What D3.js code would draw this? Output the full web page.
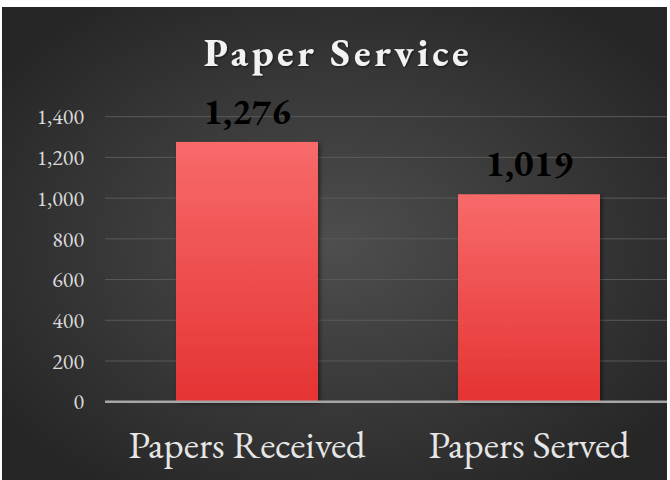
<!DOCTYPE html>
<html>
<head>
<meta charset="utf-8">
<script src="https://cdn.jsdelivr.net/npm/d3@7"></script>
<style>
  body { margin: 0; background: #fff; }
  svg { display: block; }
  text { font-family: Garamond, "EB Garamond", "Liberation Serif", serif; }
</style>
</head>
<body>
<div id="chart"></div>
<script>
const categories = ["Papers Received", "Papers Served"];
const values = [1276, 1019];
const yTicks = [0, 200, 400, 600, 800, 1000, 1200, 1400];
const chartTitle = "Paper Service";

const width = 670;
const height = 480;

const svg = d3.select("#chart").append("svg")
    .attr("width", width)
    .attr("height", height);

const defs = svg.append("defs");

const bg = defs.append("radialGradient")
    .attr("id", "bg")
    .attr("cx", "50%").attr("cy", "50%").attr("r", "62%");
bg.append("stop").attr("offset", "0%").attr("stop-color", "#4e4e4e");
bg.append("stop").attr("offset", "100%").attr("stop-color", "#262626");

const barFill = defs.append("linearGradient")
    .attr("id", "barFill")
    .attr("x1", 0).attr("y1", 0).attr("x2", 0).attr("y2", 1);
barFill.append("stop").attr("offset", "0%").attr("stop-color", "#f86a6a");
barFill.append("stop").attr("offset", "100%").attr("stop-color", "#e53333");

const shadow = defs.append("filter").attr("id", "shadow")
    .attr("x", "-20%").attr("y", "-20%").attr("width", "140%").attr("height", "140%");
shadow.append("feDropShadow")
    .attr("dx", 2).attr("dy", 2).attr("stdDeviation", 2)
    .attr("flood-color", "#000").attr("flood-opacity", 0.45);

const titleShadow = defs.append("filter").attr("id", "titleShadow");
titleShadow.append("feDropShadow")
    .attr("dx", 1).attr("dy", 1).attr("stdDeviation", 1)
    .attr("flood-color", "#000").attr("flood-opacity", 0.6);

// chart background
svg.append("rect")
    .attr("x", 2).attr("y", 7)
    .attr("width", 665).attr("height", 473)
    .attr("fill", "url(#bg)");

const y = d3.scaleLinear()
    .domain([0, 1400])
    .range([401.7, 116.7]);

// centres of bars
const xCenter = d3.scalePoint()
    .domain(categories)
    .range([247, 529]);
const barWidth = 142;

const g = svg.append("g");

// gridlines
g.append("g")
    .selectAll("line")
    .data(yTicks.filter(d => d > 0))
    .join("line")
    .attr("x1", 105).attr("x2", 667)
    .attr("y1", d => y(d)).attr("y2", d => y(d))
    .attr("stroke", "#5a5a5a")
    .attr("stroke-width", 1);

// y axis labels
const yAxis = g.append("g")
    .attr("transform", "translate(84,0)")
    .call(d3.axisLeft(y).tickValues(yTicks).tickFormat(d3.format(",")).tickSize(0).tickPadding(0));
yAxis.select(".domain").remove();
yAxis.selectAll("text")
    .attr("fill", "#d9d9d9")
    .style("font-size", "22px")
    .attr("dy", "0.33em");

// bars
g.append("g")
    .selectAll("rect")
    .data(values)
    .join("rect")
    .attr("x", (d, i) => xCenter(categories[i]) - barWidth / 2)
    .attr("y", d => y(d))
    .attr("width", barWidth)
    .attr("height", d => y(0) - y(d))
    .attr("fill", "url(#barFill)")
    .attr("filter", "url(#shadow)");

// zero line
g.append("line")
    .attr("x1", 105).attr("x2", 667)
    .attr("y1", y(0)).attr("y2", y(0))
    .attr("stroke", "#a6a6a6")
    .attr("stroke-width", 2.5);

// data labels
g.append("g")
    .selectAll("text")
    .data(values)
    .join("text")
    .attr("x", (d, i) => xCenter(categories[i]))
    .attr("y", d => y(d) - 18)
    .attr("text-anchor", "middle")
    .attr("fill", "#000")
    .style("font-size", "37px")
    .style("font-weight", "bold")
    .text(d => d3.format(",")(d));

// category labels
g.append("g")
    .selectAll("text")
    .data(categories)
    .join("text")
    .attr("x", d => xCenter(d))
    .attr("y", 458)
    .attr("text-anchor", "middle")
    .attr("fill", "#e6e6e6")
    .style("font-size", "39px")
    .text(d => d);

// title
svg.append("text")
    .attr("x", 338)
    .attr("y", 66)
    .attr("text-anchor", "middle")
    .attr("fill", "#f2f2f2")
    .attr("filter", "url(#titleShadow)")
    .style("font-size", "40px")
    .style("font-weight", "bold")
    .style("letter-spacing", "3.5px")
    .text(chartTitle);
</script>
</body>
</html>
